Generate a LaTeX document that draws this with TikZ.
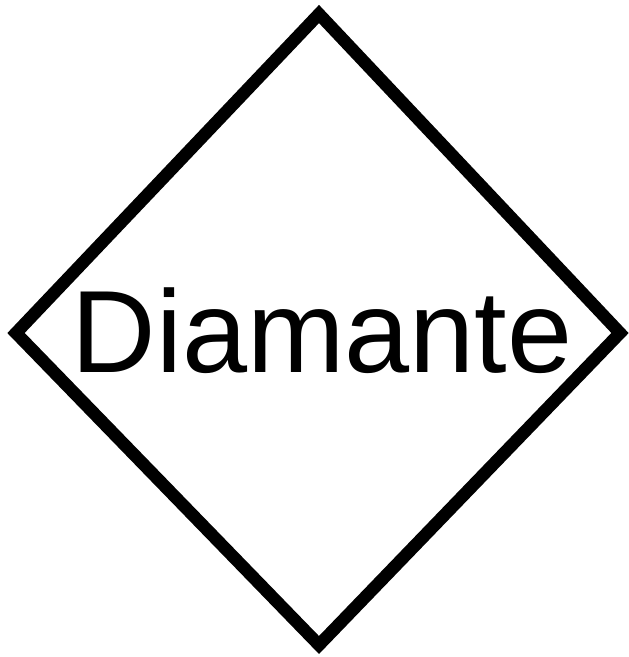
\documentclass[tikz,border=0pt]{standalone}
\usepackage{fontspec}
\setmainfont{Liberation Sans}
\usepackage{tikz}
\usetikzlibrary{positioning, calc}

\begin{document}
\begin{tikzpicture}[x=1pt, y=-1pt, line width=12.5pt, line join=miter]
    \useasboundingbox (0,0) rectangle (629,657);
    % Corners of the diamond
    \coordinate (top) at (319,14);
    \coordinate (left) at (16,333);
    \coordinate (bottom) at (319,645);
    \coordinate (right) at (620,333);
    \draw (top) -- (right) -- (bottom) -- (left) -- cycle;

    % Label
    \node[inner sep=0pt, anchor=base] (label) at (322,372) {\fontsize{117}{117}\selectfont Diamante};
\end{tikzpicture}
\end{document}
